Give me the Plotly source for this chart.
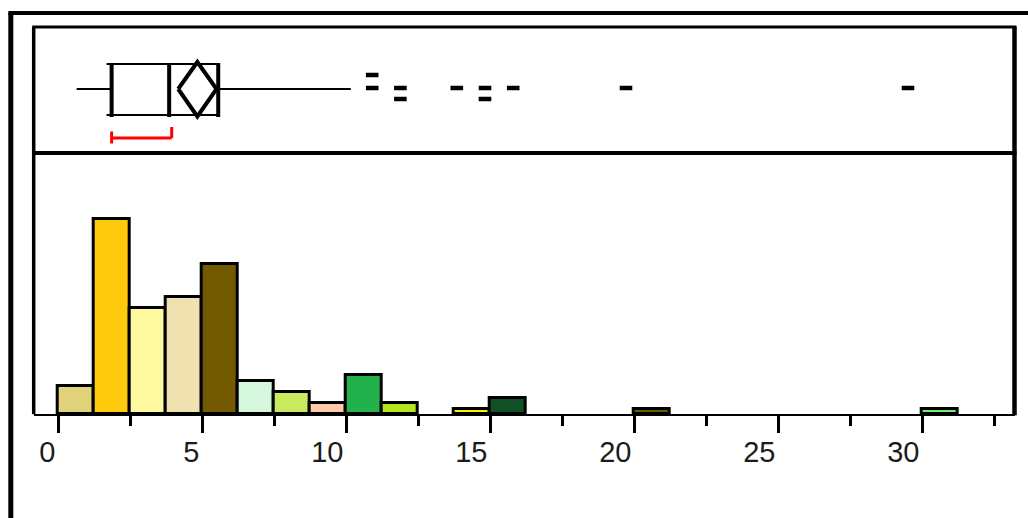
import plotly.graph_objects as go

W, H = 1028, 518

# ---- histogram counts (bin width 1.25) ----
bin_width = 1.25
bin_starts = [0, 1.25, 2.5, 3.75, 5, 6.25, 7.5, 8.75, 10, 11.25, 13.75, 15, 20, 30]
bin_counts = [5, 35, 19, 21, 27, 6, 4, 2, 7, 2, 1, 3, 1, 1]
bin_colors = ["#E1D27C", "#FFC90E", "#FFF9A0", "#EFE1B0", "#735A00", "#D4F7DD",
              "#C8EB5E", "#FFCBA6", "#22B14C", "#B5E51D", "#FFF200", "#115026",
              "#6B5E00", "#74EC74"]

# ---- outlier box plot summary ----
whisker_low = 0.52
q1 = 1.76
median = 3.80
q3 = 5.54
whisker_high = 10.24
mean = 4.80
mean_ci = 0.68
shortest_half = [1.76, 3.89]
outliers = [11, 11, 12, 12, 14, 15, 15, 16, 20, 30]

x_ticks = [0, 5, 10, 15, 20, 25, 30]


def fx(p):
    return p / W


def fy(p):
    return 1 - p / H


# pixel frame of the inner panels
LEFT, RIGHT = 33.7, 1014.5
TOP, SEP, BASE = 27.0, 153.0, 414.3


def by(p):
    # vertical position inside the box-plot strip, 0 at the separator, 1 at the top
    return (SEP - p) / (SEP - TOP)


fig = go.Figure()

# histogram bars
fig.add_trace(go.Bar(
    x=[s + bin_width / 2 for s in bin_starts],
    y=bin_counts,
    width=bin_width,
    marker=dict(color=bin_colors, line=dict(color="black", width=3)),
    xaxis="x", yaxis="y", hoverinfo="x+y", showlegend=False,
))

# whiskers and box outline (thin lines)
yw = by(89)
ytop, ybot = by(64), by(115)
thin_x = [whisker_low, q1, None, q3, whisker_high, None, q1 - 0.18, q3, None, q1 - 0.18, q3]
thin_y = [yw, yw, None, yw, yw, None, ytop, ytop, None, ybot, ybot]
fig.add_trace(go.Scatter(x=thin_x, y=thin_y, mode="lines",
                         line=dict(color="black", width=2),
                         xaxis="x2", yaxis="y2", hoverinfo="skip", showlegend=False))

# quartile and median bars (thick)
v_top, v_bot = by(63), by(117)
thick_x, thick_y = [], []
for v in (q1, median, q3):
    thick_x += [v, v, None]
    thick_y += [v_top, v_bot, None]
fig.add_trace(go.Scatter(x=thick_x, y=thick_y, mode="lines",
                         line=dict(color="black", width=4),
                         xaxis="x2", yaxis="y2", hoverinfo="skip", showlegend=False))

# means diamond
fig.add_trace(go.Scatter(
    x=[mean - mean_ci, mean, mean + mean_ci, mean, mean - mean_ci],
    y=[yw, by(62), yw, by(116.5), yw],
    mode="lines", line=dict(color="black", width=4),
    xaxis="x2", yaxis="y2", hoverinfo="skip", showlegend=False))

# shortest half bracket
yb = by(138)
fig.add_trace(go.Scatter(
    x=[shortest_half[0], shortest_half[1], None,
       shortest_half[0], shortest_half[0], None,
       shortest_half[1], shortest_half[1]],
    y=[yb, yb, None, by(131.5), by(143.5), None, by(127), yb],
    mode="lines", line=dict(color="#FF0000", width=3),
    xaxis="x2", yaxis="y2", hoverinfo="skip", showlegend=False))

# outliers, stacked where values coincide
outlier_level = [1, 0, 0, -1, 0, 0, -1, 0, 0, 0]
row_y = {1: by(75), 0: by(88), -1: by(99)}
fig.add_trace(go.Scatter(
    x=outliers, y=[row_y[l] for l in outlier_level], mode="markers",
    marker=dict(symbol="line-ew", size=9, line=dict(color="black", width=4.5)),
    xaxis="x2", yaxis="y2", hoverinfo="x", showlegend=False))

# axis scales: histogram 28.8 px per unit with 0 at x=58, box strip 28.2 px per unit with 0 at x=62
hx0, hscale = 58.0, 28.8
bx0, bscale = 62.0, 28.2

fig.update_layout(
    width=W, height=H,
    margin=dict(l=0, r=0, t=0, b=0),
    paper_bgcolor="white", plot_bgcolor="rgba(0,0,0,0)",
    bargap=0,
    xaxis=dict(
        domain=[fx(LEFT), fx(RIGHT)],
        range=[(LEFT - hx0) / hscale, (RIGHT - hx0) / hscale],
        anchor="y",
        tickmode="array", tickvals=x_ticks, ticktext=[str(t) for t in x_ticks],
        ticks="outside", ticklen=17, tickwidth=3, tickcolor="black",
        ticklabelposition="outside left",
        ticklabelstandoff=11,
        tickfont=dict(family="Liberation Sans, Arial, sans-serif", size=29, color="#1b1b1b"),
        minor=dict(tickmode="linear", tick0=0, dtick=2.5, ticks="outside",
                   ticklen=10, tickwidth=3, tickcolor="black"),
        showline=True, linecolor="black", linewidth=2,
        showgrid=False, zeroline=False, fixedrange=True,
    ),
    yaxis=dict(
        domain=[fy(BASE), fy(SEP)],
        range=[0, (BASE - SEP) / 5.58],
        visible=False, fixedrange=True,
    ),
    xaxis2=dict(
        domain=[fx(LEFT), fx(RIGHT)],
        range=[(LEFT - bx0) / bscale, (RIGHT - bx0) / bscale],
        anchor="y2", visible=False, fixedrange=True,
    ),
    yaxis2=dict(
        domain=[fy(SEP), fy(TOP)],
        range=[0, 1], anchor="x2",
        visible=False, fixedrange=True,
    ),
)

# panel frames
frame = [
    # outer frame (left and top)
    (10.8, 13, 10.8, H, 5),
    (8.3, 13, W, 13, 4),
    # inner panels
    (LEFT - 1.5, TOP, RIGHT + 2, TOP, 3),
    (LEFT, TOP, LEFT, BASE, 3.5),
    (RIGHT, TOP, RIGHT, BASE + 1, 4.5),
    (LEFT - 1.5, SEP, RIGHT + 2, SEP, 4),
]
for x0, y0, x1, y1, w in frame:
    fig.add_shape(type="line", xref="paper", yref="paper",
                  x0=fx(x0), y0=fy(y0), x1=fx(x1), y1=fy(y1),
                  line=dict(color="black", width=w), layer="above")

fig.write_html("out.html")
